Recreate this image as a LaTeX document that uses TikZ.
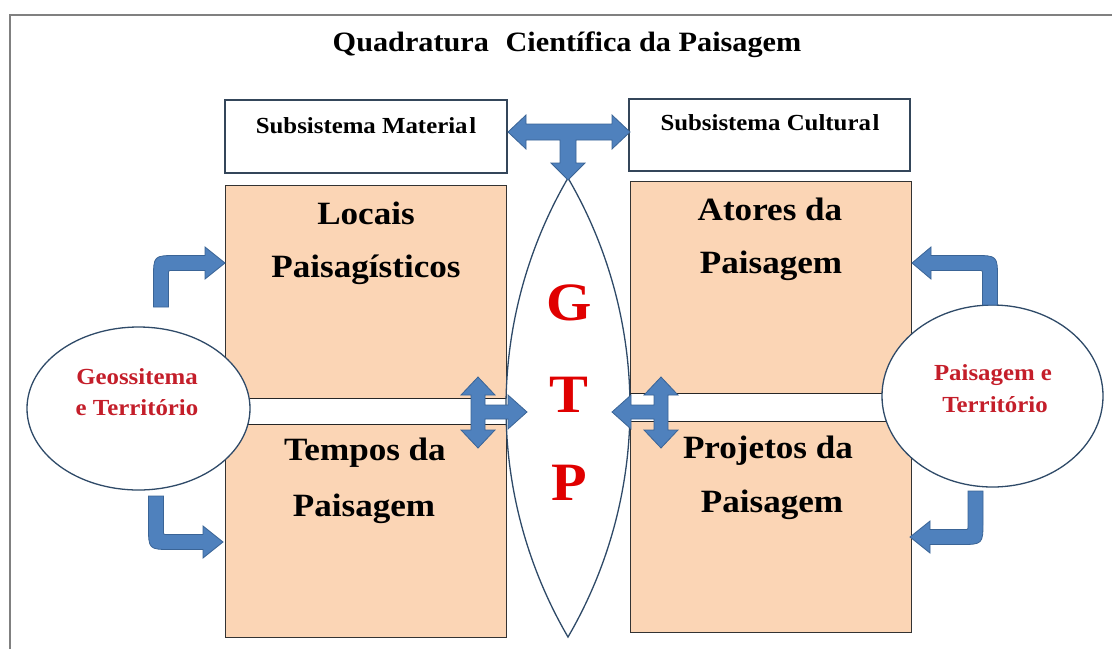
\documentclass[tikz,border=0pt]{standalone}
\usepackage{fontspec}
\setmainfont{Liberation Serif}
\usepackage{graphicx}
\usetikzlibrary{shapes.geometric}
\definecolor{orangefill}{HTML}{FBD5B5}
\definecolor{subline}{HTML}{34465A}
\definecolor{ellline}{HTML}{2F4A68}
\definecolor{arrowfill}{HTML}{4F81BD}
\definecolor{arrowline}{HTML}{3A6496}
\definecolor{gtpred}{HTML}{E00000}
\definecolor{elltext}{HTML}{C41E2A}
\definecolor{framegray}{HTML}{808080}
\newcommand{\sx}[1]{\scalebox{1.08}[1]{#1}}
\begin{document}
\begin{tikzpicture}[x=1pt,y=-1pt,
  fs/.style={font=\bfseries\fontsize{#1}{#1}\selectfont},
  txt/.style={inner sep=0pt, anchor=base},
  orangebox/.style={draw=black!80, line width=0.9pt, fill=orangefill, inner sep=0pt},
  subbox/.style={draw=subline, line width=2pt, fill=white, inner sep=0pt},
  band/.style={draw=black!85, line width=1pt, fill=white},
  ellbox/.style={ellipse, draw=ellline, line width=1.3pt, fill=white, inner sep=0pt},
  blockarrow/.style={fill=arrowfill, draw=arrowline, line width=0.8pt, line join=miter}]
\useasboundingbox (0,0) rectangle (1112,649);
\fill[white] (0,0) rectangle (1112,649);
% frame
\draw[framegray, line width=1.5pt] (10,649) -- (10,15) -- (1112,15);
% title
\node[txt, fs=28] (title) at (567,51) {\sx{Quadratura\hspace{0.3em} Científica da Paisagem}};
% subsystem boxes
\node[subbox, minimum width=282pt, minimum height=73pt] (mat) at (366,136.5) {};
\node[subbox, minimum width=281pt, minimum height=72pt] (cul) at (769.5,135) {};
\node[txt, fs=23] (matt) at (366,133) {\sx{Subsistema Materia\kern1.5pt l}};
\node[txt, fs=23] (cult) at (770,130) {\sx{Subsistema Cultura\kern1.5pt l}};
% orange boxes
\node[orangebox, minimum width=281pt, minimum height=452pt] (lbox) at (365.5,411) {};
\node[orangebox, minimum width=281pt, minimum height=451pt] (rbox) at (770.5,406.5) {};
% bands
\draw[band] (200,398) rectangle (506,424);
\draw[band] (630,393) rectangle (1000,421);
% box texts
\node[txt, fs=32.5] (l1) at (366,224) {\sx{Locais}};
\node[txt, fs=32.5] (l2) at (366,277) {\sx{Paisagísticos}};
\node[txt, fs=32.5] (r1) at (770,220) {\sx{Atores da}};
\node[txt, fs=32.5] (r2) at (771,273) {\sx{Paisagem}};
\node[txt, fs=32.5] (t1) at (365,460) {\sx{Tempos da}};
\node[txt, fs=32.5] (t2) at (364,516) {\sx{Paisagem}};
\node[txt, fs=32.5] (p1) at (768,458) {\sx{Projetos da}};
\node[txt, fs=32.5] (p2) at (772,512) {\sx{Paisagem}};
% central lens
\draw[draw=ellline, line width=1.3pt, fill=white]
  (568,178) .. controls (608.6,247.6) and (630,326.9) .. (630,407.5)
  .. controls (630,488.1) and (608.6,567.4) .. (568,637)
  .. controls (527.4,567.4) and (506,488.1) .. (506,407.5)
  .. controls (506,326.9) and (527.4,247.6) .. cycle;
\node[txt, fs=54, text=gtpred] (g) at (569,320) {\sx{G}};
\node[txt, fs=54, text=gtpred] (t) at (569,412) {\sx{T}};
\node[txt, fs=54, text=gtpred] (p) at (569,500) {\sx{P}};
% side ellipses
\node[ellbox, minimum width=223pt, minimum height=163pt] (geo) at (138.5,408.5) {};
\node[ellbox, minimum width=221pt, minimum height=182pt] (pai) at (992.5,396) {};
\node[txt, fs=23, text=elltext] (geo1) at (137,384) {\sx{Geossitema}};
\node[txt, fs=23, text=elltext] (geo2) at (137,415) {\sx{e Território}};
\node[txt, fs=23, text=elltext] (pai1) at (993,380) {\sx{Paisagem e}};
\node[txt, fs=23, text=elltext] (pai2) at (995,412) {\sx{Território}};
% T arrow between subsystems
\draw[blockarrow] (508,132) -- (526,115) -- (526,124) -- (612,124) -- (612,115) -- (630,132)
  -- (612,149) -- (612,140) -- (576,140) -- (576,163) -- (585,163) -- (568,180)
  -- (551,163) -- (560,163) -- (560,140) -- (526,140) -- (526,149) -- cycle;
% left cross arrow
\draw[blockarrow] (478,377) -- (495,395) -- (485,395) -- (485,405) -- (508,405) -- (508,395)
  -- (527,412) -- (508,429) -- (508,419) -- (485,419) -- (485,430) -- (495,430)
  -- (478,448) -- (461,430) -- (471,430) -- (471,395) -- (461,395) -- cycle;
% right cross arrow
\draw[blockarrow] (661,377) -- (644,395) -- (654,395) -- (654,405) -- (631,405) -- (631,395)
  -- (612,412) -- (631,429) -- (631,419) -- (654,419) -- (654,430) -- (644,430)
  -- (661,448) -- (678,430) -- (668,430) -- (668,395) -- (678,395) -- cycle;
% bent arrows
\draw[blockarrow] (153.5,307) -- (153.5,279) .. controls (153.5,255.5) .. (177,255.5)
  -- (205,255.5) -- (205,247) -- (225,263) -- (205,279) -- (205,270.5) -- (172,270.5)
  .. controls (168.5,270.5) .. (168.5,274) -- (168.5,307) -- cycle;
\draw[blockarrow] (148.5,496) -- (148.5,526) .. controls (148.5,549.5) .. (172,549.5)
  -- (203,549.5) -- (203,558) -- (223,542) -- (203,526) -- (203,534.5) -- (167,534.5)
  .. controls (163.5,534.5) .. (163.5,531) -- (163.5,496) -- cycle;
\draw[blockarrow] (997.5,305) -- (997.5,279) .. controls (997.5,255.5) .. (974,255.5)
  -- (931,255.5) -- (931,247) -- (912,263) -- (931,279) -- (931,270.5) -- (979,270.5)
  .. controls (982.5,270.5) .. (982.5,274) -- (982.5,305) -- cycle;
\draw[blockarrow] (983,491) -- (983,521) .. controls (983,544.5) .. (959.5,544.5)
  -- (930,544.5) -- (930,553) -- (910,537) -- (930,521) -- (930,529.5) -- (964.5,529.5)
  .. controls (968,529.5) .. (968,526) -- (968,491) -- cycle;
\end{tikzpicture}
\end{document}
